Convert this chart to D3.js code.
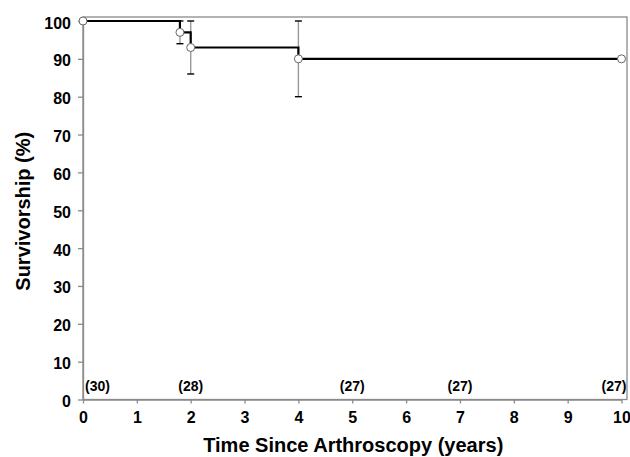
<!DOCTYPE html>
<html>
<head>
<meta charset="utf-8">
<script src="https://cdn.jsdelivr.net/npm/d3@7"></script>
<style>
  body { margin: 0; background: white; }
  text { font-family: "Liberation Sans", Arial, sans-serif; font-weight: bold; fill: black; }
</style>
</head>
<body>
<script>
// data
const times = [0, 1.8, 2, 4, 10],
      survival = [100, 97, 93, 90, 90];

// error bars (only where drawn)
const errTimes = [1.8, 2, 4],
      errLow = [94, 86, 80],
      errHigh = [100, 100, 100];

// numbers at risk
const riskTimes = [0, 2, 5, 7, 10],
      riskCounts = [30, 28, 27, 27, 27];

const xTicks = d3.range(0, 11),
      yTicks = d3.range(0, 101, 10);

const width = 630,
      height = 457,
      axisGrey = "#8a8a8a";

const x = d3.scaleLinear().domain([0, 10]).range([83, 621.5]);
const y = d3.scaleLinear().domain([0, 100]).range([399.5, 21]);

const svg = d3.select("body").append("svg")
  .attr("width", width)
  .attr("height", height);

// plot frame (top + right sit a little outside the data range)
svg.append("rect")
  .attr("x", x(0))
  .attr("y", y(100) - 4)
  .attr("width", x(10) + 5.5 - x(0))
  .attr("height", y(0) - y(100) + 4)
  .attr("fill", "none")
  .attr("stroke", axisGrey)
  .attr("stroke-width", 1.3);

// axes
const xAxis = svg.append("g")
  .attr("transform", `translate(0,${y(0)})`)
  .call(d3.axisBottom(x).tickValues(xTicks).tickSize(4).tickSizeOuter(0).tickPadding(8.5));

const yAxis = svg.append("g")
  .attr("transform", `translate(${x(0)},0)`)
  .call(d3.axisLeft(y).tickValues(yTicks).tickSize(5).tickSizeOuter(0).tickPadding(7));

[xAxis, yAxis].forEach(g => {
  g.select(".domain").attr("stroke", axisGrey).attr("stroke-width", 1.3);
  g.selectAll(".tick line").attr("stroke", axisGrey).attr("stroke-width", 1.3);
  g.selectAll(".tick text")
    .style("font-family", '"Liberation Sans", Arial, sans-serif')
    .style("font-weight", "bold")
    .style("font-size", "16px")
    .attr("fill", "black");
});
yAxis.selectAll(".tick text").attr("dy", "0.44em");

// error bars
errTimes.forEach((t, i) => {
  const g = svg.append("g");
  g.append("line")
    .attr("x1", x(t)).attr("x2", x(t))
    .attr("y1", y(errLow[i])).attr("y2", y(errHigh[i]))
    .attr("stroke", "#999").attr("stroke-width", 1.4);
  [errLow[i], errHigh[i]].forEach(v => {
    g.append("line")
      .attr("x1", x(t) - 3.5).attr("x2", x(t) + 3.5)
      .attr("y1", y(v)).attr("y2", y(v))
      .attr("stroke", "black").attr("stroke-width", 1.4);
  });
});

// step survival line
const steps = times.map((t, i) => [t, survival[i]]);
svg.append("path")
  .datum(steps)
  .attr("fill", "none")
  .attr("stroke", "black")
  .attr("stroke-width", 2.2)
  .attr("d", d3.line().x(d => x(d[0])).y(d => y(d[1])).curve(d3.curveStepAfter));

// markers
svg.append("g")
  .selectAll("circle")
  .data(steps)
  .enter()
  .append("circle")
  .attr("cx", d => x(d[0]))
  .attr("cy", d => y(d[1]))
  .attr("r", 4)
  .attr("fill", "white")
  .attr("stroke", "#666")
  .attr("stroke-width", 1);

// numbers at risk
svg.append("g")
  .selectAll("text")
  .data(riskTimes)
  .enter()
  .append("text")
  .attr("x", (t, i) => i == 0 ? x(t) + 2 : i == riskTimes.length - 1 ? x(t) + 5 : x(t))
  .attr("y", 390.5)
  .attr("text-anchor", (t, i) => i == 0 ? "start" : i == riskTimes.length - 1 ? "end" : "middle")
  .style("font-size", "14px")
  .text((t, i) => "(" + riskCounts[i] + ")");

// axis titles
svg.append("text")
  .attr("x", (x(0) + x(10)) / 2 + 1)
  .attr("y", 451.5)
  .attr("text-anchor", "middle")
  .style("font-size", "20px")
  .text("Time Since Arthroscopy (years)");

svg.append("text")
  .attr("transform", `translate(29.5,${(y(0) + y(100)) / 2 + 1}) rotate(-90)`)
  .attr("text-anchor", "middle")
  .style("font-size", "20px")
  .text("Survivorship (%)");
</script>
</body>
</html>
